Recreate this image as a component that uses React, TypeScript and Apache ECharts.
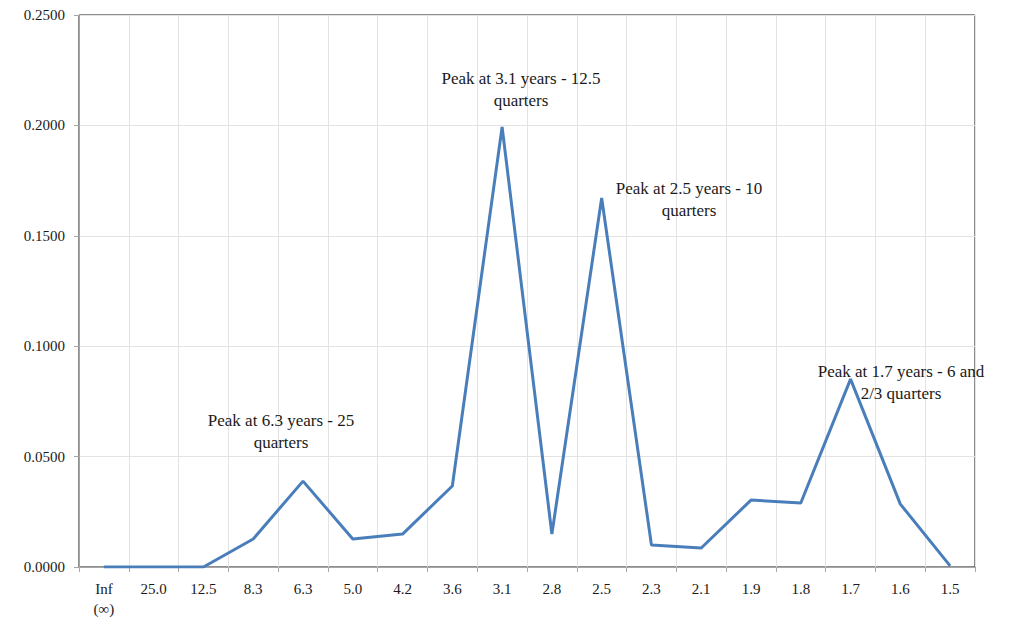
import React, { useEffect, useRef } from "react";
import * as echarts from "echarts";

const categories = ["Inf\n(∞)", "25.0", "12.5", "8.3", "6.3", "5.0", "4.2", "3.6", "3.1", "2.8", "2.5", "2.3", "2.1", "1.9", "1.8", "1.7", "1.6", "1.5"];
const values = [0, 0, 0, 0.0127, 0.0389, 0.0127, 0.0149, 0.0367, 0.1993, 0.0149, 0.1671, 0.01, 0.0086, 0.0303, 0.029, 0.0851, 0.0285, 0.0005];
const annotations = [
  { text: "Peak at 6.3 years - 25\nquarters", x: 281, y: 409 },
  { text: "Peak at 3.1 years - 12.5\nquarters", x: 521, y: 67 },
  { text: "Peak at 2.5 years - 10\nquarters", x: 689, y: 177 },
  { text: "Peak at 1.7 years - 6 and\n2/3 quarters", x: 901, y: 360 },
];

const FONT = "Liberation Serif";

export default function App() {
  const ref = useRef<HTMLDivElement>(null);
  useEffect(() => {
    const chart = echarts.init(ref.current!, null, { renderer: "svg" });
    chart.setOption({
      animation: false,
      backgroundColor: "#ffffff",
      textStyle: { fontFamily: FONT },
      grid: { left: 79, right: 35, top: 15, bottom: 54, show: true, borderColor: "#1a1a1a", borderWidth: 1 },
      xAxis: {
        type: "category",
        data: categories,
        boundaryGap: true,
        axisLine: { lineStyle: { color: "#a6a6a6" } },
        axisTick: { show: true, length: 5, lineStyle: { color: "#a6a6a6" } },
        splitLine: { show: true, lineStyle: { color: "#e3e3e3" } },
        axisLabel: { color: "#1a1a1a", fontFamily: FONT, fontSize: 15, margin: 12, lineHeight: 20, interval: 0 },
      },
      yAxis: {
        type: "value",
        min: 0,
        max: 0.25,
        interval: 0.05,
        axisLine: { show: true, lineStyle: { color: "#a6a6a6" } },
        axisTick: { show: true, length: 5, lineStyle: { color: "#a6a6a6" } },
        splitLine: { show: true, lineStyle: { color: "#e3e3e3" } },
        axisLabel: { color: "#1a1a1a", fontFamily: FONT, fontSize: 15, margin: 14, formatter: (v: number) => v.toFixed(4) },
      },
      series: [
        {
          type: "line",
          data: values,
          symbol: "none",
          lineStyle: { color: "#4a7ebb", width: 3 },
          z: 3,
        },
      ],
      graphic: annotations.map((a) => ({
        type: "text",
        x: a.x,
        y: a.y,
        z: 10,
        style: {
          text: a.text,
          fontFamily: FONT,
          fontSize: 17,
          lineHeight: 22,
          fill: "#1a1a1a",
          align: "center",
          verticalAlign: "top",
        },
      })),
    });
    return () => chart.dispose();
  }, []);
  return <div ref={ref} style={{ position: "fixed", left: 0, top: 0, width: 1010, height: 621 }} />;
}
